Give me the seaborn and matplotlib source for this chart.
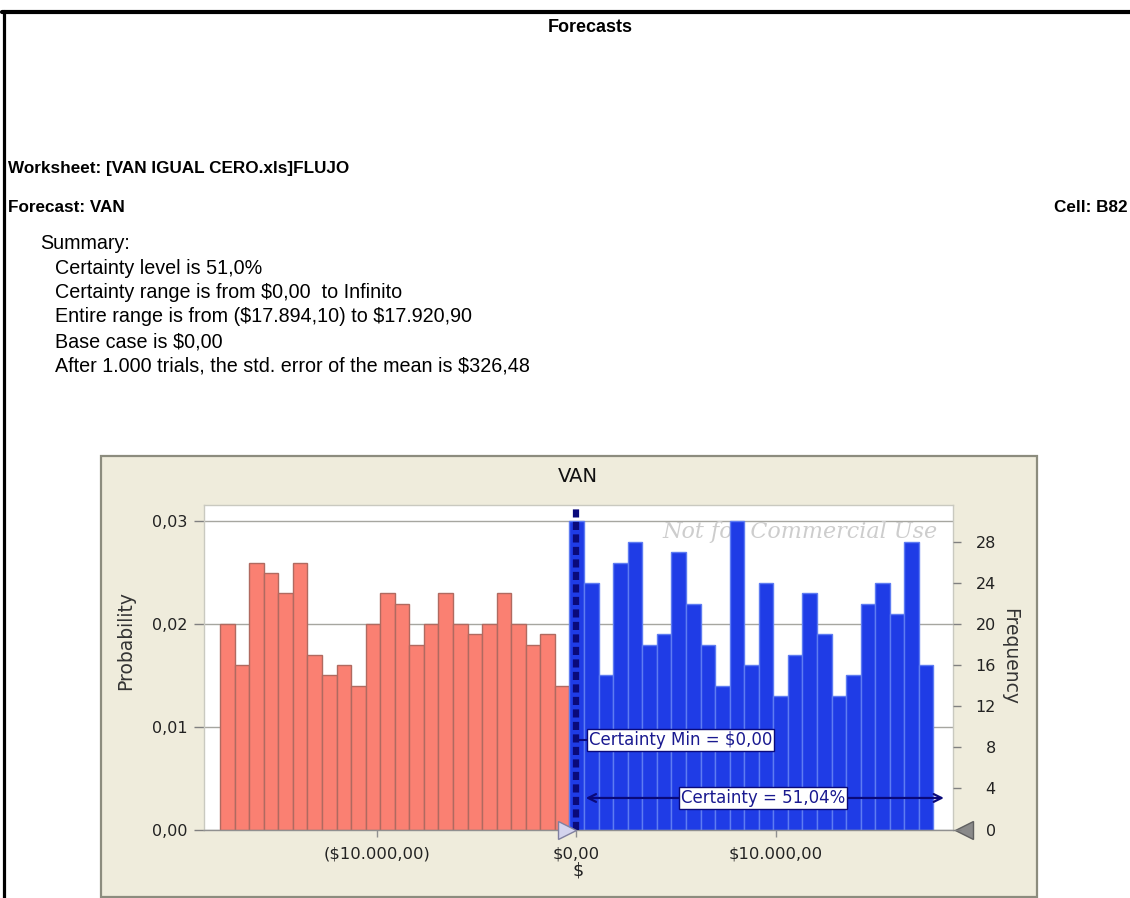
import numpy as np
import pandas as pd
import matplotlib
matplotlib.use("Agg")
import matplotlib.pyplot as plt
from matplotlib.patches import Rectangle
from matplotlib.lines import Line2D
from matplotlib.ticker import FuncFormatter
import seaborn as sns

# ---- simulation results -------------------------------------------------
TRIALS = 1000
VAN_MIN, VAN_MAX = -17894.10, 17920.90
N_BINS = 49
CERTAINTY_MIN = 0.0
CERTAINTY_PCT = 51.04

# trial counts per bin, left of the certainty range
freq_below = [20, 16, 26, 25, 23, 26, 17, 15, 16, 14, 20, 23,
              22, 18, 20, 23, 20, 19, 20, 23, 20, 18, 19, 14]
# trial counts per bin, inside the certainty range
freq_above = [30, 24, 15, 26, 28, 18, 19, 27, 22, 18, 14, 30, 16,
              24, 13, 17, 23, 19, 13, 15, 22, 24, 21, 28, 16]

x_ticks = [-10000, 0, 10000]
prob_ticks = [0.00, 0.01, 0.02, 0.03]
freq_ticks = [4, 8, 12, 16, 20, 24, 28]

summary_lines = [
    "Certainty level is 51,0%",
    "Certainty range is from $0,00  to Infinito",
    "Entire range is from ($17.894,10) to $17.920,90",
    "Base case is $0,00",
    "After 1.000 trials, the std. error of the mean is $326,48",
]

# ---- tidy table ---------------------------------------------------------
edges = np.linspace(VAN_MIN, VAN_MAX, N_BINS + 1)
centers = (edges[:-1] + edges[1:]) / 2
freq = freq_below + freq_above
n_below = len(freq_below)
df = pd.DataFrame({
    "van": centers,
    "prob": np.array(freq) / TRIALS,
    "side": ["below"] * n_below + ["above"] * len(freq_above),
})

sns.set_theme(style="white")
plt.rcParams["font.family"] = ["DejaVu Sans"]

W, H = 1130, 898
fig = plt.figure(figsize=(W / 100, H / 100), dpi=100)
fig.patch.set_facecolor("white")


def fx(px):
    return px / W


def fy(py):
    return 1 - py / H


# ---- report page frame and header --------------------------------------
fig.add_artist(Line2D([fx(2), fx(1130)], [fy(12), fy(12)], color="black", lw=3))
fig.add_artist(Line2D([fx(3.5), fx(3.5)], [fy(10.5), fy(898)], color="black", lw=2.3))

bold = dict(family="Liberation Sans", fontsize=12.3, color="black", weight="bold",
            va="center", parse_math=False)
plain = dict(family="Liberation Sans", fontsize=14.2, color="black",
             va="center", parse_math=False)
fig.text(fx(590), fy(27), "Forecasts", ha="center", **dict(bold, fontsize=13))
fig.text(fx(8), fy(168), "Worksheet: [VAN IGUAL CERO.xls]FLUJO", ha="left", **bold)
fig.text(fx(8), fy(207), "Forecast: VAN", ha="left", **bold)
fig.text(fx(1127), fy(207), "Cell: B82", ha="right", **bold)
fig.text(fx(40), fy(243), "Summary:", ha="left", **plain)
for i, line in enumerate(summary_lines):
    fig.text(fx(55), fy(268 + i * 24.5), line, ha="left", **plain)

# ---- chart panel --------------------------------------------------------
fig.add_artist(Rectangle((fx(101), fy(897)), (1037 - 101) / W, (897 - 456) / H,
                         transform=fig.transFigure, facecolor="#EFECDC",
                         edgecolor="#8C8C7E", lw=1.6, zorder=0))

ax = fig.add_axes([fx(204), fy(829.5), (952.7 - 204) / W, (829.5 - 505) / H])
ax.set_facecolor("white")

sns.histplot(data=df[df.side == "below"], x="van", weights="prob",
             bins=list(edges[:n_below + 1]), stat="count", color="#FA8072",
             edgecolor="#B06A60", linewidth=1, alpha=1, ax=ax, zorder=2)
sns.histplot(data=df[df.side == "above"], x="van", weights="prob",
             bins=list(edges[n_below:]), stat="count", color="#1F3CE6",
             edgecolor="#5E7CF2", linewidth=1, alpha=1, ax=ax, zorder=2)

ax.set_xlim(-18700, 18886)
ax.set_ylim(0, 0.0316)
ax.set_yticks(prob_ticks)
ax.set_xticks(x_ticks)
ax.yaxis.grid(True, color="#A6A6A0", lw=1)
ax.xaxis.grid(False)
ax.set_axisbelow(True)


def money(v, pos=None):
    s = f"{abs(v):,.2f}".replace(",", "X").replace(".", ",").replace("X", ".")
    return f"(${s})" if v < 0 else f"${s}"


ax.xaxis.set_major_formatter(FuncFormatter(money))
ax.yaxis.set_major_formatter(FuncFormatter(lambda v, p: f"{v:.2f}".replace(".", ",")))
ax.tick_params(axis="x", bottom=True, length=5, width=1, color="#909090",
               labelsize=11.8, pad=7, labelcolor="#222222")
ax.tick_params(axis="y", left=True, length=7, width=1, color="#808080",
               labelsize=11.5, pad=5, labelcolor="#222222")
ax.set_xlabel("$", fontsize=12.5, labelpad=0, color="#222222")
ax.set_ylabel("")
for name, sp in ax.spines.items():
    sp.set_color("#C9C9C0")
    sp.set_linewidth(1)
ax.spines["bottom"].set_color("#909090")

# frequency scale on the right
ax2 = ax.twinx()
ax2.set_ylim(0, 0.0316 * TRIALS)
ax2.set_yticks([0] + freq_ticks)
ax2.set_yticklabels(["0"] + [str(t) for t in freq_ticks], ha="right")
ax2.tick_params(axis="y", right=True, length=6, width=1, color="#808080",
                labelsize=11.5, pad=25, labelcolor="#222222")
for sp in ax2.spines.values():
    sp.set_visible(False)
ax2.grid(False)

fig.text(fx(578), fy(476), "VAN", ha="center", va="center", fontsize=14,
         color="#111111")
fig.text(fx(126), fy(640), "Probability", rotation=90, ha="center", va="center",
         fontsize=13.5, color="#333333")
fig.text(fx(1010), fy(656), "Frequency", rotation=270, ha="center", va="center",
         fontsize=13.5, color="#333333")

ax.text(0.980, 0.917, "Not for Commercial Use", transform=ax.transAxes, ha="right",
        va="center", family="DejaVu Serif", style="italic", fontsize=16,
        color="#CDCDCD", zorder=1)

# certainty boundary
navy = "#0A0A7A"
ax.axvline(CERTAINTY_MIN, color=navy, lw=4.5, ls=(0, (1.3, 0.7)), zorder=4)
ax.plot([CERTAINTY_MIN, 550], [0.00872, 0.00872], color=navy, lw=1.5, zorder=4)
ax.text(620, 0.00872, f"Certainty Min = {money(CERTAINTY_MIN)}", ha="left", va="center",
        fontsize=12, color="#1A1A90", zorder=6,
        bbox=dict(boxstyle="square,pad=0.1", facecolor="white", edgecolor=navy, lw=1))

ax.annotate("", xy=(18585, 0.00307), xytext=(326, 0.00307),
            arrowprops=dict(arrowstyle="<->", color=navy, lw=1.6,
                            mutation_scale=14), zorder=5)
ax.text(9362, 0.00307, f"Certainty = {CERTAINTY_PCT:.2f}%".replace(".", ","),
        ha="center", va="center", fontsize=12, color="#1A1A90", zorder=6,
        bbox=dict(boxstyle="square,pad=0.1", facecolor="white", edgecolor=navy, lw=1))

# range grabbers
ax.plot([CERTAINTY_MIN - 500], [0], marker=">", markersize=13, color="#D4D4EE",
        markeredgecolor="#8080A0", markeredgewidth=1, clip_on=False, zorder=7)
ax.plot([1.015], [0], transform=ax.transAxes, marker="<", markersize=13,
        color="#8A8A8A", markeredgecolor="#606060", markeredgewidth=1,
        clip_on=False, zorder=7)

fig.savefig("out.png", dpi=100, facecolor="white")
